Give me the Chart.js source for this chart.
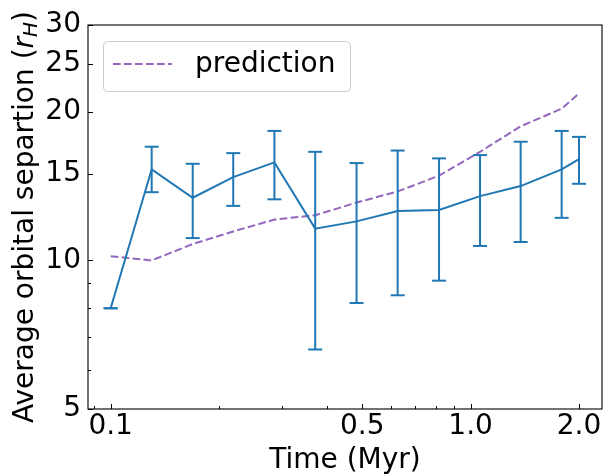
<!DOCTYPE html>
<html>
<head>
<meta charset="utf-8">
<script src="https://cdn.jsdelivr.net/npm/chart.js@4/dist/chart.umd.min.js"></script>
<style>
	html, body { margin: 0; padding: 0; background: #fff; overflow: hidden; }
	canvas { display: block; }
</style>
</head>
<body>
<canvas id="chart" width="603" height="475"></canvas>
<script>
// Time in Myr, one entry per snapshot
const time = [0.1, 0.13, 0.169, 0.219, 0.285, 0.37, 0.482, 0.627, 0.817, 1.062, 1.377, 1.79, 2.0];
// Measured average separation and its error bar ends
const separation = [8.0, 15.3, 13.4, 14.75, 15.8, 11.6, 12.0, 12.6, 12.65, 13.5, 14.15, 15.3, 16.05];
const sep_low = [8.0, 13.75, 11.1, 12.9, 13.3, 6.6, 8.2, 8.5, 9.1, 10.7, 10.9, 12.2, 14.3];
const sep_high = [8.0, 17.0, 15.7, 16.5, 18.3, 16.6, 15.75, 16.7, 16.1, 16.35, 17.4, 18.3, 17.8];
// Predicted separation
const prediction = [10.2, 10.0, 10.8, 11.45, 12.1, 12.35, 13.1, 13.8, 14.85, 16.6, 18.7, 20.3, 21.8];

const x_ticks = [0.1, 0.5, 1.0, 2.0];
const x_tick_labels = ['0.1', '0.5', '1.0', '2.0'];
const x_minor_ticks = [0.09, 0.2, 0.3, 0.4, 0.6, 0.7, 0.8, 0.9];
const y_ticks = [5, 10, 15, 20, 25, 30];
const y_tick_labels = ['5', '10', '15', '20', '25', '30'];
const y_minor_ticks = [6, 7, 8, 9];

const blue = '#1f77b4';
const purple = '#9467bd';
const font_family = '"DejaVu Sans", sans-serif';
const font_size = 28;

const ctx = document.getElementById('chart');

// One small dataset per error bar, caps drawn as 'line' point style
const error_sets = time.map((t, i) => ({
	label: '',
	data: [{x: t, y: sep_low[i]}, {x: t, y: sep_high[i]}],
	borderColor: blue,
	borderWidth: 2,
	pointStyle: 'line',
	pointRadius: 7,
	pointBorderWidth: 2,
	pointBorderColor: blue,
	pointHoverRadius: 7
}));

// Frame, inward tick marks
const axes_frame = {
	id: 'axes_frame',
	afterDraw (chart) {
		const {ctx, chartArea: a, scales: {x, y}} = chart;
		ctx.save();
		ctx.strokeStyle = '#000';
		ctx.lineWidth = 1.1;
		ctx.strokeRect(a.left, a.top, a.right - a.left, a.bottom - a.top);

		const tick_x = (v, len) => {
			const px = Math.round(x.getPixelForValue(v)) + 0.5;
			ctx.beginPath();
			ctx.moveTo(px, a.bottom);
			ctx.lineTo(px, a.bottom - len);
			ctx.stroke();
		};
		const tick_y = (v, len) => {
			const py = Math.round(y.getPixelForValue(v)) + 0.5;
			ctx.beginPath();
			ctx.moveTo(a.left, py);
			ctx.lineTo(a.left + len, py);
			ctx.stroke();
		};
		ctx.lineWidth = 1;
		x_ticks.forEach(v => tick_x(v, 5));
		x_minor_ticks.forEach(v => tick_x(v, 3));
		y_ticks.forEach(v => tick_y(v, 5));
		y_minor_ticks.forEach(v => tick_y(v, 3));
		ctx.restore();
	}
};

// Y title with the italic r_H subscript
const y_title = {
	id: 'y_title',
	afterDraw (chart) {
		const c = chart.ctx;
		const a = chart.chartArea;
		const parts = [
			{text: 'Average orbital separtion (', font: `${font_size}px ${font_family}`, dy: 0},
			{text: 'r', font: `italic ${font_size}px ${font_family}`, dy: 0},
			{text: 'H', font: `italic ${Math.round(font_size * 0.7)}px ${font_family}`, dy: 4},
			{text: ')', font: `${font_size}px ${font_family}`, dy: 0}
		];
		let total = 0;
		parts.forEach(p => { c.font = p.font; p.w = c.measureText(p.text).width; total += p.w; });
		c.save();
		c.translate(33, (a.top + a.bottom) / 2);
		c.rotate(-Math.PI / 2);
		c.fillStyle = '#000';
		c.textBaseline = 'alphabetic';
		c.textAlign = 'left';
		let px = -total / 2;
		parts.forEach(p => {
			c.font = p.font;
			c.fillText(p.text, px, p.dy);
			px += p.w;
		});
		c.restore();
	}
};

// Matplotlib style legend box in the upper left
const legend_box = {
	id: 'legend_box',
	afterDraw (chart) {
		const c = chart.ctx;
		const ds = chart.data.datasets.find(d => d.label === 'prediction');
		const bx = 103, by = 41, bw = 247, bh = 50;
		c.save();
		c.fillStyle = 'rgba(255,255,255,0.8)';
		c.strokeStyle = '#cccccc';
		c.lineWidth = 1;
		c.beginPath();
		c.roundRect(bx + 0.5, by + 0.5, bw, bh, 4);
		c.fill();
		c.stroke();

		c.strokeStyle = ds.borderColor;
		c.lineWidth = ds.borderWidth;
		c.setLineDash(ds.borderDash);
		c.beginPath();
		c.moveTo(113, 64);
		c.lineTo(172, 64);
		c.stroke();
		c.setLineDash([]);

		c.fillStyle = '#000';
		c.font = `${font_size}px ${font_family}`;
		c.textBaseline = 'middle';
		c.fillText(ds.label, 195, 65);
		c.restore();
	}
};

new Chart(ctx, {
	type: 'line',
	data: {
		datasets: [
			{
				label: '',
				data: time.map((t, i) => ({x: t, y: separation[i]})),
				borderColor: blue,
				borderWidth: 2,
				pointRadius: 0,
				tension: 0
			},
			...error_sets,
			{
				label: 'prediction',
				data: time.map((t, i) => ({x: t, y: prediction[i]})),
				borderColor: purple,
				borderWidth: 2,
				borderDash: [7.7, 3.3],
				pointRadius: 0,
				tension: 0
			}
		]
	},
	options: {
		responsive: false,
		animation: false,
		events: [],
		layout: {
			autoPadding: false,
			padding: {top: 25, right: 1, left: 0, bottom: 0}
		},
		plugins: {
			legend: {display: false},
			tooltip: {enabled: false}
		},
		scales: {
			x: {
				type: 'logarithmic',
				min: 0.0865,
				max: 2.317,
				grid: {display: false, drawTicks: false},
				border: {display: false},
				afterBuildTicks: scale => { scale.ticks = x_ticks.map(v => ({value: v})); },
				afterFit: scale => {
					scale.height = 66;
					scale.paddingLeft = 0;
					scale.paddingRight = 0;
				},
				ticks: {
					autoSkip: false,
					maxRotation: 0,
					padding: 1,
					color: '#000',
					font: {family: font_family, size: font_size},
					callback: (value, index) => x_tick_labels[index]
				},
				title: {
					display: true,
					text: 'Time (Myr)',
					color: '#000',
					font: {family: font_family, size: font_size, lineHeight: 1.0},
					padding: {top: 0, bottom: 0}
				}
			},
			y: {
				type: 'logarithmic',
				min: 5,
				max: 30,
				grid: {display: false, drawTicks: false},
				border: {display: false},
				afterBuildTicks: scale => { scale.ticks = y_ticks.map(v => ({value: v})); },
				afterFit: scale => {
					scale.width = 88;
					scale.paddingTop = 0;
					scale.paddingBottom = 0;
				},
				ticks: {
					autoSkip: false,
					padding: 7,
					color: '#000',
					font: {family: font_family, size: font_size},
					callback: (value, index) => y_tick_labels[index]
				}
			}
		}
	},
	plugins: [axes_frame, y_title, legend_box]
});
</script>
</body>
</html>
